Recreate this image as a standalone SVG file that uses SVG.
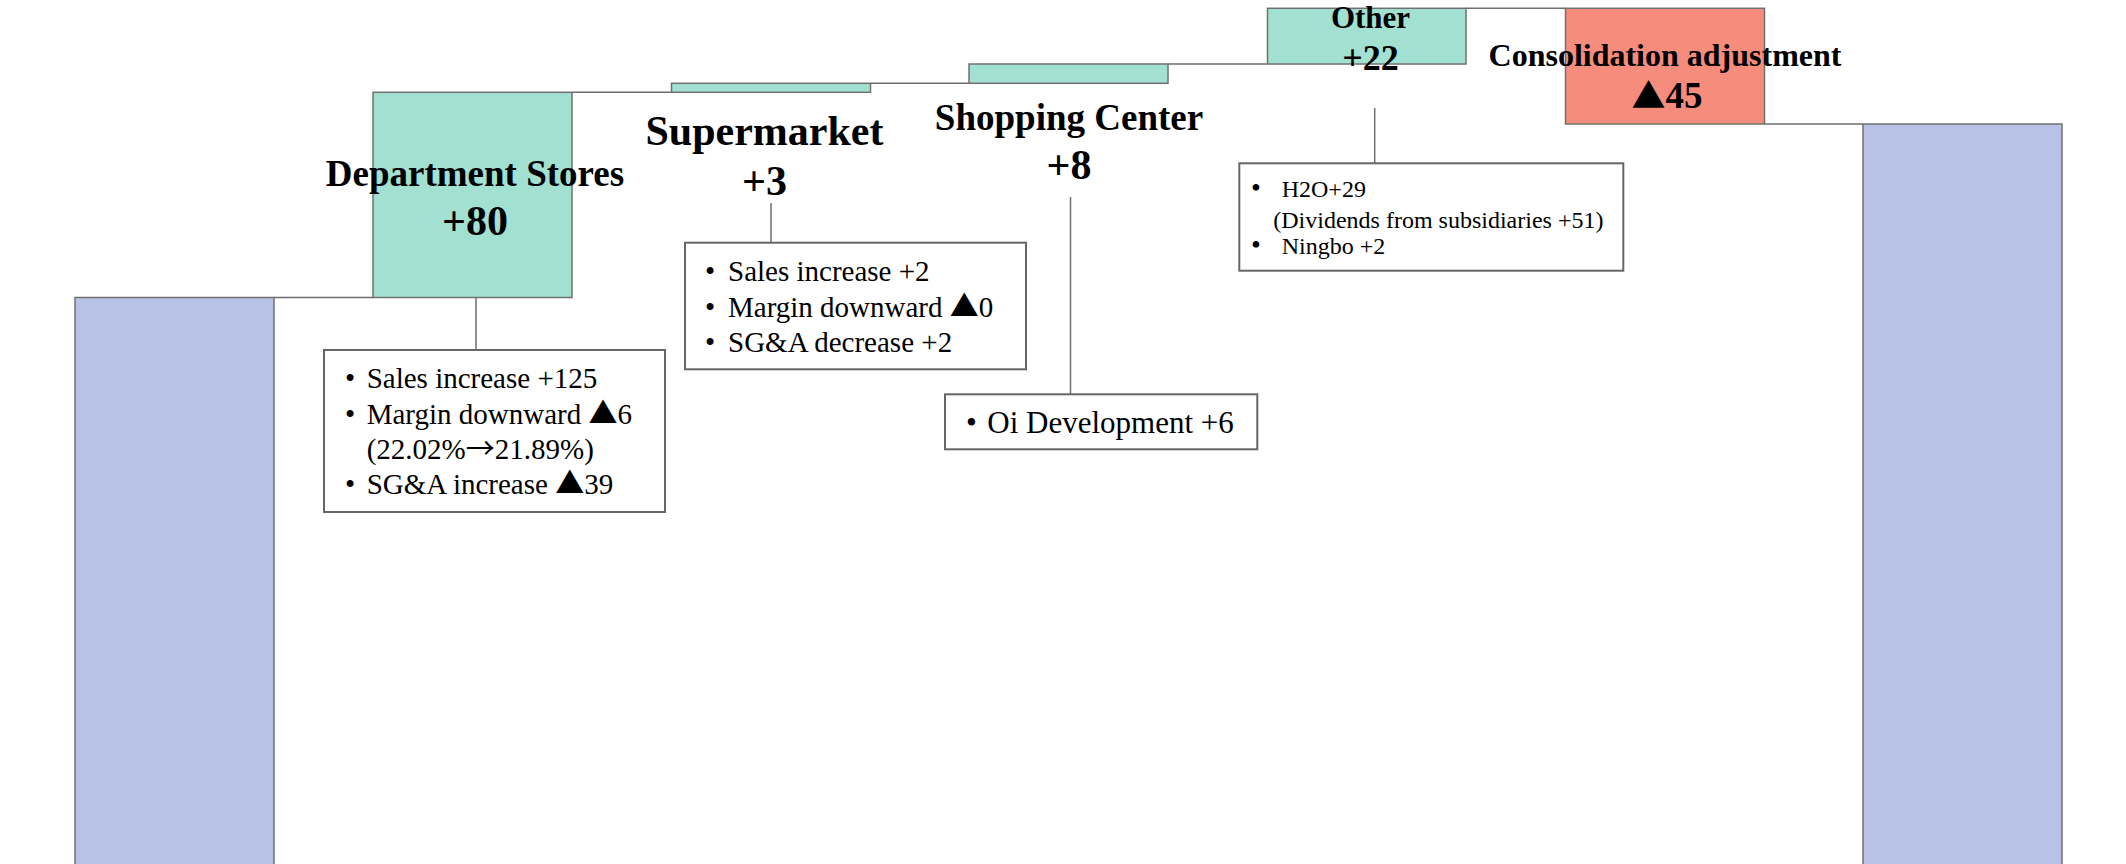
<svg xmlns="http://www.w3.org/2000/svg" width="2126" height="864" viewBox="0 0 2126 864">
<style>
.bar{stroke:#707070;stroke-width:1.5}
.g{fill:#a2e1d1}
.b{fill:#b8c2e7}
.r{fill:#f68c7c}
.co{fill:#ffffff;stroke:#666666;stroke-width:2}
.ln{stroke:#6e6e6e;stroke-width:1.5;fill:none}
.h{font-family:"Liberation Serif","Times New Roman",serif;font-weight:bold;fill:#000;text-anchor:middle}
.t{font-family:"Liberation Serif","Times New Roman",serif;fill:#000}
.tri{font-family:"Noto Sans CJK JP","DejaVu Sans",sans-serif}
</style>
<rect width="2126" height="864" fill="#ffffff"/>
<g id="connectors">
<line class="ln" x1="274" y1="297.5" x2="373" y2="297.5"/>
<line class="ln" x1="572" y1="92.3" x2="671.5" y2="92.3"/>
<line class="ln" x1="870.5" y1="83.3" x2="969" y2="83.3"/>
<line class="ln" x1="1168" y1="64" x2="1267.5" y2="64"/>
<line class="ln" x1="1466" y1="8.3" x2="1565.5" y2="8.3"/>
<line class="ln" x1="1764.5" y1="124" x2="1863" y2="124"/>
<line class="ln" x1="476" y1="252" x2="476" y2="350"/>
<line class="ln" x1="771" y1="203" x2="771" y2="242.7"/>
<line class="ln" x1="1070.5" y1="197" x2="1070.5" y2="394.3"/>
<line class="ln" x1="1374.7" y1="108" x2="1374.7" y2="163.3"/>
</g>
<g id="start-bar"><rect class="bar b" x="75" y="297.5" width="199" height="580"/></g>
<g id="department-stores">
<rect class="bar g" x="373" y="92.3" width="199" height="205.2"/>
<text class="h" x="475" y="186" font-size="37">Department Stores</text>
<text class="h" x="475" y="235" font-size="42">+80</text>
</g>
<g id="supermarket">
<rect class="bar g" x="671.5" y="83.3" width="199" height="9"/>
<text class="h" x="764.5" y="145" font-size="42">Supermarket</text>
<text class="h" x="764.5" y="195" font-size="42">+3</text>
</g>
<g id="shopping-center">
<rect class="bar g" x="969" y="64" width="199" height="19.3"/>
<text class="h" x="1069" y="130" font-size="37">Shopping Center</text>
<text class="h" x="1069" y="179" font-size="42">+8</text>
</g>
<g id="other">
<rect class="bar g" x="1267.5" y="8.3" width="198.5" height="55.7"/>
<text class="h" x="1370.5" y="27.7" font-size="31">Other</text>
<text class="h" x="1370.5" y="70" font-size="36">+22</text>
</g>
<g id="consolidation-adjustment">
<rect class="bar r" x="1565.5" y="8.3" width="199" height="115.7"/>
<text class="h" x="1665" y="65.7" font-size="32">Consolidation adjustment</text>
<text class="h" x="1667" y="108" font-size="37"><tspan class="tri" font-size="34">▲</tspan>45</text>
</g>
<g id="end-bar"><rect class="bar b" x="1863" y="124" width="199" height="760"/></g>
<g id="dept-callout">
<rect class="co" x="324" y="350" width="341" height="162"/>
<g class="t" font-size="29">
<text x="345" y="388.3">•</text><text x="366.7" y="388.3">Sales increase +125</text>
<text x="345" y="424">•</text><text x="366.7" y="424">Margin downward <tspan class="tri">▲</tspan>6</text>
<text x="366.7" y="459.3">(22.02%<tspan class="tri">→</tspan>21.89%)</text>
<text x="345" y="494.3">•</text><text x="366.7" y="494.3">SG&amp;A increase <tspan class="tri">▲</tspan>39</text>
</g>
</g>
<g id="super-callout">
<rect class="co" x="685" y="242.7" width="341" height="126.6"/>
<g class="t" font-size="29">
<text x="705" y="281">•</text><text x="728" y="281">Sales increase +2</text>
<text x="705" y="316.7">•</text><text x="728" y="316.7">Margin downward <tspan class="tri">▲</tspan>0</text>
<text x="705" y="351.7">•</text><text x="728" y="351.7">SG&amp;A decrease +2</text>
</g>
</g>
<g id="shopping-callout">
<rect class="co" x="945" y="394.3" width="312.3" height="55"/>
<g class="t" font-size="31">
<text x="966" y="432.7">•</text><text x="987.3" y="432.7">Oi Development +6</text>
</g>
</g>
<g id="other-callout">
<rect class="co" x="1239.3" y="163.3" width="384" height="107.4"/>
<g class="t" font-size="24">
<text x="1251" y="197.3" font-size="28">•</text><text x="1281.7" y="197.3">H2O+29</text>
<text x="1273.3" y="228.3">(Dividends from subsidiaries +51)</text>
<text x="1251" y="254.3" font-size="28">•</text><text x="1281.7" y="254.3">Ningbo +2</text>
</g>
</g>
</svg>
